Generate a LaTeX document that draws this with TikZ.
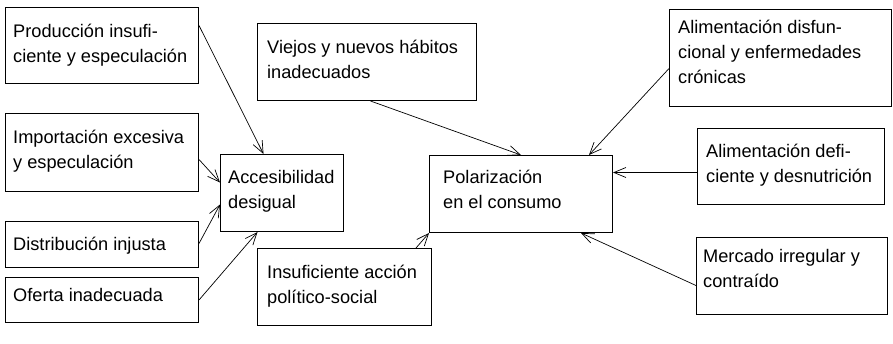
\documentclass[tikz,border=0pt]{standalone}
\usepackage{fontspec}
\setmainfont{Liberation Sans}
\usetikzlibrary{arrows.meta}
\begin{document}
\begin{tikzpicture}[x=1pt,y=-1pt,
  boxnode/.style={draw, line width=1pt, inner sep=0pt, anchor=north west},
  txt/.style={inner sep=0pt, anchor=base west, font=\fontsize{18.2}{25.4}\selectfont},
  conn/.style={line width=0.7pt, -{Straight Barb[length=12pt,width=10pt,line width=0.7pt]}}]
\useasboundingbox (0,0) rectangle (893,343);
% boxes
\node[boxnode, minimum width=193pt, minimum height=76pt] (prod) at (5,7) {};
\node[boxnode, minimum width=193pt, minimum height=78pt] (impo) at (5,113) {};
\node[boxnode, minimum width=193pt, minimum height=46pt] (dist) at (5,221) {};
\node[boxnode, minimum width=193pt, minimum height=45pt] (ofer) at (5,277) {};
\node[boxnode, minimum width=123pt, minimum height=77pt] (acce) at (220,154) {};
\node[boxnode, minimum width=219pt, minimum height=77pt] (viej) at (257,23) {};
\node[boxnode, minimum width=183pt, minimum height=77pt] (pola) at (429,155) {};
\node[boxnode, minimum width=174pt, minimum height=77pt] (insu) at (257,248) {};
\node[boxnode, minimum width=222pt, minimum height=97pt] (alid) at (669,9) {};
\node[boxnode, minimum width=187pt, minimum height=76pt] (alde) at (697,128) {};
\node[boxnode, minimum width=191pt, minimum height=77pt] (merc) at (696,237) {};
% texts
\node[txt] (prodt) at (13,37) {\parbox[t]{190pt}{Producción insufi-\\ciente y especulación}};
\node[txt] (impot) at (13,143) {\parbox[t]{190pt}{Importación excesiva\\y especulación}};
\node[txt] (distt) at (13,250) {\parbox[t]{190pt}{Distribución injusta}};
\node[txt] (ofert) at (13,301) {\parbox[t]{190pt}{Oferta inadecuada}};
\node[txt] (accet) at (228,183) {\parbox[t]{120pt}{Accesibilidad\\desigual}};
\node[txt] (viejt) at (267,53) {\parbox[t]{210pt}{Viejos y nuevos hábitos\\inadecuados}};
\node[txt] (polat) at (443,183) {\parbox[t]{170pt}{Polarización\\en el consumo}};
\node[txt] (insut) at (267,278) {\parbox[t]{170pt}{Insuficiente acción\\político-social}};
\node[txt] (alidt) at (678,33) {\parbox[t]{215pt}{Alimentación disfun-\\cional y enfermedades\\crónicas}};
\node[txt] (aldet) at (706,157) {\parbox[t]{180pt}{Alimentación defi-\\ciente y desnutrición}};
\node[txt] (merct) at (703,262) {\parbox[t]{185pt}{Mercado irregular y\\contraído}};
% connectors
\draw[conn] ([yshift=20pt]prod.east) -- ([xshift=-18.5pt]acce.north);
\draw[conn] ([yshift=-7pt]impo.east) -- ([yshift=10.5pt]acce.west);
\draw[conn] ([yshift=1pt]dist.east) -- ([yshift=-11.5pt]acce.west);
\draw[conn] (ofer.east) -- ([xshift=-24.5pt]acce.south);
\draw[conn] ([xshift=3.5pt]viej.south) -- (pola.north);
\draw[conn] ([xshift=-16pt]insu.north east) -- (pola.south west);
\draw[conn] ([yshift=-10.5pt]alid.west) -- ([xshift=-24pt]pola.north east);
\draw[conn] ([yshift=-6pt]alde.west) -- ([yshift=21.5pt]pola.east);
\draw[conn] ([yshift=-9.5pt]merc.west) -- ([xshift=-32pt]pola.south east);
\end{tikzpicture}
\end{document}
